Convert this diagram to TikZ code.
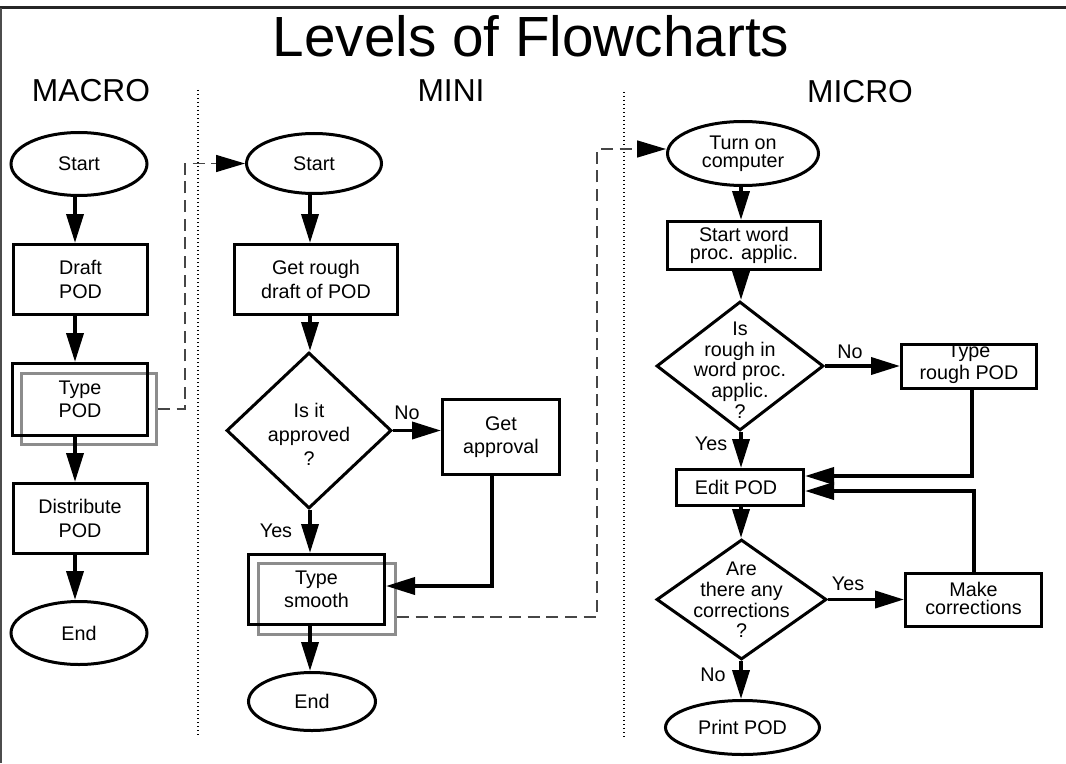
\documentclass[tikz,border=0pt]{standalone}
\usepackage{fontspec}
\setmainfont{Liberation Sans}
\usetikzlibrary{shapes.geometric,arrows.meta}
\newcommand\ffA{\fontsize{14.8}{17.5}\selectfont}
\newcommand\ffB{\fontsize{14.8}{13.5}\selectfont}
\newcommand\ffC{\fontsize{14.8}{15.5}\selectfont}
\definecolor{hl}{RGB}{140,140,140}
\definecolor{dk}{RGB}{70,70,70}
\begin{document}
\begin{tikzpicture}[x=0.75pt,y=-0.75pt,
  sz/.style 2 args={minimum width=(#1-3)*0.75pt, minimum height=(#2-3)*0.75pt},
  box/.style={draw, line width=2.25pt, rectangle, inner sep=0pt, align=center, font=\ffA},
  ell/.style={draw, line width=2.25pt, ellipse, inner sep=0pt, align=center, font=\ffA},
  dia/.style={draw, line width=2.25pt, diamond, inner sep=0pt},
  gbox/.style={draw=hl, line width=2.25pt, rectangle, inner sep=0pt},
  txt/.style={align=center, inner sep=0pt},
  arr/.style={line width=2.8pt, -{Triangle[length=21.75pt,width=12.75pt]}},
  dl/.style={draw=dk, line width=1.1pt, dash pattern=on 9pt off 5pt, -{Triangle[length=21.75pt,width=12.75pt,color=black]}},
  dots/.style={line width=0.8pt, dash pattern=on 0.8pt off 2.2pt},
  head/.style={font=\fontsize{23.8}{28}\selectfont, anchor=base, inner sep=0pt}]
\useasboundingbox (0,0) rectangle (1066,763);
% frame
\draw[line width=2.25pt, black!85] (0,8) -- (1066,8);
\draw[line width=1.5pt, black!70] (1,8) -- (1,763);
% titles
\node[font=\fontsize{42.5}{50}\selectfont, anchor=base, inner sep=0pt] (title) at (531,57) {Levels of Flowcharts};
\node[head] (hmacro) at (91,102) {MACRO};
\node[head] (hmini) at (451,102) {MINI};
\node[head] (hmicro) at (860,103) {MICRO};
% dotted separators
\draw[dots] (198,90) -- (198,737);
\draw[dots] (624,92) -- (624,738);
% MACRO
\coordinate (ax) at (75,0);
\node[gbox, sz={138}{74}] (g1) at (89,409) {};
\node[ell, sz={139}{66}] (s1) at (79,164) {Start};
\node[box, sz={137}{73}] (b1) at (80.5,279.5) {Draft\\POD};
\node[box, sz={138}{75}] (b2) at (80,399.5) {Type\\POD};
\node[box, sz={137}{73}] (b3) at (80,518.5) {Distribute\\POD};
\node[ell, sz={139}{66}] (e1) at (79,633) {End};
\draw[arr] (s1.south -| ax) -- (b1.north -| ax);
\draw[arr] (b1.south -| ax) -- (b2.north -| ax);
\draw[arr] (b2.south -| ax) -- (b3.north -| ax);
\draw[arr] (b3.south -| ax) -- (e1.north -| ax);
% MINI
\coordinate (mx) at (310,0);
\node[gbox, sz={140}{74}] (g2) at (327,599) {};
\node[ell, sz={138}{63}] (s2) at (314,163.5) {Start};
\node[box, sz={166}{73}] (b4) at (316,279.5) {Get rough\\draft of POD};
\node[dia, sz={168}{159}] (d1) at (309,430.5) {};
\node[txt, font=\fontsize{14.8}{18}\selectfont] (d1t) at (309,434) {Is it\\approved\\?};
\node[box, sz={120}{78}] (b5) at (501,437) {Get\\approval};
\node[box, sz={139}{73}] (b6) at (316.5,589.5) {Type\\smooth};
\node[ell, sz={130}{61}] (e2) at (312,701.5) {End};
\node[txt, font=\ffA] (l1) at (407,413) {No};
\node[txt, font=\ffA] (l2) at (276,531) {Yes};
\draw[arr] (s2.south -| mx) -- (b4.north -| mx);
\draw[arr] (b4.south -| mx) -- (d1.north -| mx);
\draw[arr] (d1.east) -- (d1.east -| b5.west);
\draw[arr] (d1.south -| mx) -- (b6.north -| mx);
\draw[arr] (b6.south -| mx) -- (e2.north -| mx);
\coordinate (ga) at (492,586);
\draw[arr] (b5.south -| ga) -- (ga) -- (ga -| b6.east);
% MICRO
\coordinate (cx) at (741,0);
\node[ell, sz={154}{67}, font=\ffB] (s3) at (743,153.5) {Turn on\\computer};
\node[box, sz={156}{51}, font=\ffB] (b7) at (744,245.5) {Start word\\proc. applic.};
\node[dia, sz={170}{132}] (d2) at (740,366) {};
\node[txt, font=\ffC] (d2t) at (740,370) {Is\\rough in\\word proc.\\applic.\\?};
\node[box, sz={138}{47}] (b8) at (969,366.5) {};
\node[txt, font=\fontsize{14.8}{16.5}\selectfont] (b8t) at (969,364) {Type\\rough POD};
\node[box, sz={130}{39}] (b9) at (740,487.5) {};
\node[txt, font=\ffA] (b9t) at (736,487.5) {Edit POD};
\node[dia, sz={173}{123}] (d3) at (741.5,599.5) {};
\node[txt, font=\ffC] (d3t) at (741.5,600) {Are\\there any\\corrections\\?};
\node[box, sz={139}{56}] (b10) at (973.5,600) {};
\node[txt, font=\ffB] (b10t) at (973.5,598) {Make\\corrections};
\node[ell, sz={157}{57}] (e3) at (742.5,727.5) {Print POD};
\node[txt, font=\ffA] (l3) at (850,352) {No};
\node[txt, font=\ffA] (l4) at (711,444) {Yes};
\node[txt, font=\ffA] (l5) at (848,584) {Yes};
\node[txt, font=\ffA] (l6) at (713,675) {No};
\draw[arr] (s3.south -| cx) -- (b7.north -| cx);
\draw[arr] (b7.south -| cx) -- (d2.north -| cx);
\draw[arr] (d2.east) -- (d2.east -| b8.west);
\draw[arr] (d2.south -| cx) -- (b9.north -| cx);
\draw[arr] (b9.south -| cx) -- (d3.north -| cx);
\draw[arr] (d3.east) -- (d3.east -| b10.west);
\draw[arr] (d3.south -| cx) -- (e3.north -| cx);
\coordinate (c1) at (972,476);
\draw[arr] (b8.south -| c1) -- (c1) -- (c1 -| b9.east);
\coordinate (c2) at (974,491);
\draw[arr] (b10.north -| c2) -- (c2) -- (c2 -| b9.east);
% dashed links
\coordinate (k1) at (185,409);
\coordinate (k1b) at (185,163.5);
\draw[dl] (g1.east) -- (k1) -- (k1b) -- (s2.west);
\coordinate (k2) at (597,617);
\coordinate (k3) at (597,149);
\draw[dl] (k2 -| g2.east) -- (k2) -- (k3) -- (k3 -| s3.west);
\end{tikzpicture}
\end{document}
